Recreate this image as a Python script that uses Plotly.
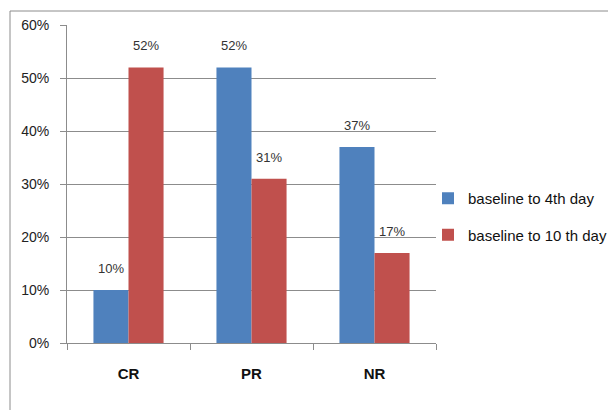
import plotly.graph_objects as go

categories = ["CR", "PR", "NR"]
series_names = ["baseline to 4th day", "baseline to 10 th day"]
day4_values = [10, 52, 37]
day10_values = [52, 31, 17]
y_ticks = [0, 10, 20, 30, 40, 50, 60]
y_tick_labels = ["0%", "10%", "20%", "30%", "40%", "50%", "60%"]

colors = ["#4F81BD", "#C0504D"]
font_family = "Liberation Sans, Arial, sans-serif"

fig = go.Figure()
for i, (name, vals, col) in enumerate(zip(series_names, [day4_values, day10_values], colors)):
    fig.add_trace(go.Bar(
        x=categories, y=vals, name=name, legendgroup=f"g{i}",
        marker=dict(color=col, line=dict(width=0)),
        offsetgroup=str(i),
    ))
    # value labels floating above each bar
    for cat, v in zip(categories, vals):
        fig.add_annotation(
            x=cat, y=v, text=f"{v}%", showarrow=False,
            xshift=(-17.5 if i == 0 else 17.5), yshift=12,
            yanchor="bottom", xanchor="center",
            font=dict(family=font_family, size=13, color="#333"),
        )

# plot area spans x 67..436, y 25..343 in a 608x410 canvas
L, R, T, B = 67, 436, 25, 343
W, H = 608, 410
pw, ph = R - L, B - T

fig.update_layout(
    width=W, height=H,
    margin=dict(l=L, r=W - R, t=T, b=H - B, pad=0, autoexpand=False),
    paper_bgcolor="white", plot_bgcolor="white",
    barmode="group", bargap=0.43, bargroupgap=0,
    font=dict(family=font_family, size=14, color="#222"),
    showlegend=True,
    legend=dict(
        x=(428 - L) / pw, y=(B - 182) / ph, xanchor="left", yanchor="top",
        font=dict(family=font_family, size=15, color="#111"),
        itemwidth=30, tracegroupgap=14, bgcolor="rgba(0,0,0,0)",
        traceorder="grouped",
    ),
)
fig.update_yaxes(
    range=[0, 60], tickvals=y_ticks, ticktext=y_tick_labels,
    showgrid=True, gridcolor="#8c8c8c", gridwidth=1,
    showline=True, linecolor="#8c8c8c", linewidth=1,
    ticks="outside", ticklen=6, tickcolor="#8c8c8c",
    tickfont=dict(family=font_family, size=14, color="#222"),
    ticklabelstandoff=8,
    zeroline=False, fixedrange=True,
)
fig.update_xaxes(
    showline=True, linecolor="#8c8c8c", linewidth=1,
    ticks="outside", ticklen=6, tickcolor="#8c8c8c", tickson="boundaries",
    tickfont=dict(family=font_family, size=15, color="#111", weight="bold"),
    ticklabelstandoff=17,
)
# outer chart border, running off the right and bottom edges
fig.add_shape(
    type="rect", xref="paper", yref="paper",
    x0=(10 - L) / pw, x1=(W + 5 - L) / pw,
    y0=(B - (H + 5)) / ph, y1=(B - 11) / ph,
    line=dict(color="#8c8c8c", width=1), layer="below",
)

fig.write_html("out.html")
